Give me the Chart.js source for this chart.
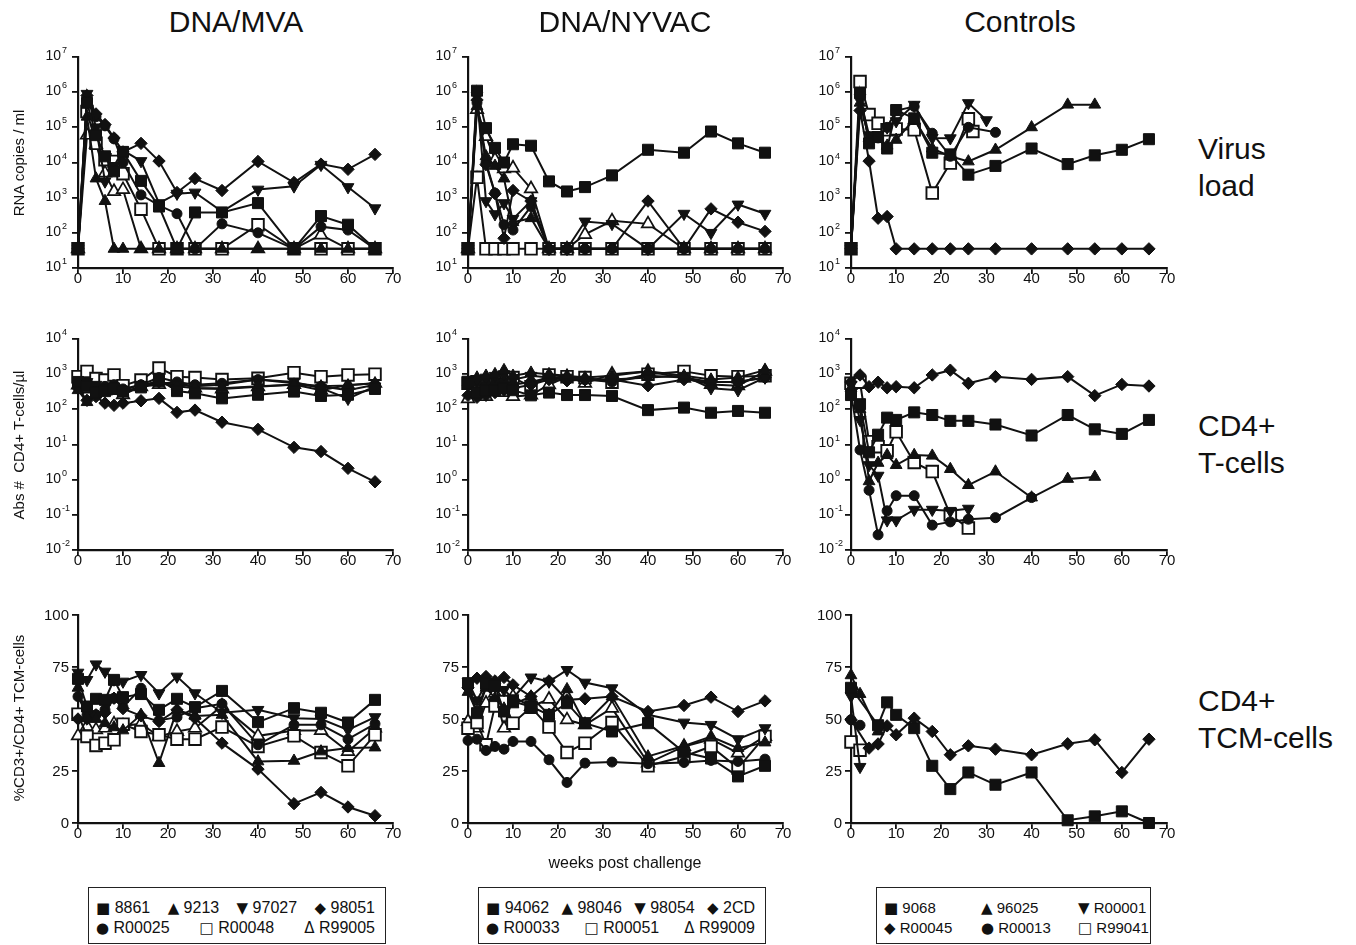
<!DOCTYPE html>
<html><head><meta charset="utf-8">
<script src="https://cdn.jsdelivr.net/npm/chart.js@4/dist/chart.umd.min.js"></script>
<style>
body{margin:0;background:#fff;width:1356px;height:945px;position:relative;overflow:hidden;font-family:"Liberation Sans",Arial,Helvetica,sans-serif;color:#111}
canvas{position:absolute}
.t{position:absolute;white-space:nowrap}
.title{font-size:30px;line-height:30px;top:7px;transform:translateX(-50%)}
.rowlab{font-size:30px;line-height:37px;left:1198px}
.ytitle{font-size:15px;line-height:15px;transform:translate(-50%,-50%) rotate(-90deg)}
.xtitle{font-size:16px;line-height:16px;transform:translateX(-50%)}
.legbox{position:absolute;border:1.3px solid #222;box-sizing:border-box;font-size:16px;line-height:20px}
.legrow{position:absolute;left:7px;white-space:nowrap;display:flex;justify-content:space-between}
.sym{font-family:"DejaVu Sans",sans-serif;font-size:15px}
</style>
</head><body>
<script>
// ---------------- DATA ----------------
const weeksVac = [0,2,4,6,8,10,14,18,22,26,32,40,48,54,60,66];
const weeksCtl = [0,2,4,6,8,10,14,18,22,26,27,30,32,40,48,54,60,66];
const xTickValues = [0,10,20,30,40,50,60,70];
const vlExponents = [1,2,3,4,5,6,7];
const cd4Exponents = [-2,-1,0,1,2,3,4];
const tcmTicks = [0,25,50,75,100];

const groupTitles = ['DNA/MVA','DNA/NYVAC','Controls'];
const namesMVA = ['8861','9213','97027','98051','R00025','R00048','R99005'];
const namesNYVAC = ['94062','98046','98054','2CD','R00033','R00051','R99009'];
const namesCtl = ['9068','96025','R00001','R00045','R00013','R99041'];

// DNA/MVA – virus load (RNA copies/ml)
const vlMVA_8861   = [35,5e5,6e4,1.5e4,5.6e3,2e4,3e3,560,35,380,380,700,35,300,170,35];
const vlMVA_9213   = [35,2e5,3.5e3,800,35,35,35,35,35,35,35,35,35,35,35,35];
const vlMVA_97027  = [35,9e5,1e5,2.9e3,8e3,2.2e4,1.1e4,700,1.3e3,1.4e3,400,1.7e3,2.1e3,8.6e3,2e3,500];
const vlMVA_98051  = [35,8e5,2.4e5,1.2e5,5e4,2e4,3.5e4,1.1e4,1.4e3,3.5e3,1.6e3,1.07e4,2.7e3,9e3,6.4e3,1.7e4];
const vlMVA_R00025 = [35,6e5,2e5,1.1e5,4.7e4,1e4,1.2e3,600,350,35,180,100,35,150,120,35];
const vlMVA_R00048 = [35,2.8e5,3.5e4,1.2e4,1.07e4,4.8e3,470,35,35,35,35,170,35,35,35,35];
const vlMVA_R99005 = [35,6e4,3.3e4,5e3,1.5e3,1.7e3,35,35,35,35,35,35,35,87,35,35];

// DNA/NYVAC – virus load
const vlNYV_94062  = [35,1.1e6,9.5e4,2.6e4,1e4,3.3e4,3e4,2.9e3,1.5e3,2e3,4.3e3,2.3e4,1.9e4,7.6e4,3.5e4,1.9e4];
const vlNYV_98046  = [35,4e5,1.5e4,8e3,3.5e3,200,260,35,35,35,35,35,35,35,35,35];
const vlNYV_98054  = [35,8e5,800,340,700,250,800,35,35,210,180,35,350,100,640,350];
const vlNYV_2CD    = [35,6e5,8.7e3,1.3e3,70,1.6e3,800,35,35,35,35,800,35,480,200,110];
const vlNYV_R00033 = [35,5e5,1e4,1.35e3,170,120,560,35,35,35,35,35,35,35,35,35];
const vlNYV_R00051 = [35,3.8e3,35,35,35,35,35,35,35,35,35,35,35,35,35,35];
const vlNYV_R99009 = [35,3.2e5,5.5e4,1.2e4,6.6e3,7e3,1.8e3,35,35,90,220,180,35,35,35,35];

// Controls – virus load
const vlCtl_9068   = [35,9.4e5,3.5e4,5.3e4,2.5e4,3.1e5,1.8e5,1.9e4,1.7e4,4.5e3,null,null,8e3,2.5e4,9e3,1.6e4,2.3e4,4.6e4];
const vlCtl_96025  = [35,5e5,5e4,5e4,3e4,4.4e4,1.7e5,2.5e4,1.5e4,1.07e4,null,null,2.3e4,1e5,4.4e5,4.4e5,null,null];
const vlCtl_R00001 = [35,7e5,6e4,6e4,1e5,1.5e5,4.4e5,5e4,4.9e4,4.9e5,null,1.6e5,null,null,null,null,null,null];
const vlCtl_R00045 = [35,3e5,1.1e4,260,290,35,35,35,35,35,null,null,35,35,35,35,35,35];
const vlCtl_R00013 = [35,7e5,4e4,5e4,1e5,3e5,3.9e5,6.8e4,1.5e4,1e5,null,null,7.2e4,null,null,null,null,null];
const vlCtl_R99041 = [35,2e6,2.3e5,1.3e5,8.5e4,9e4,8.5e4,1.35e3,9.6e3,1.75e5,7.6e4,null,null,null,null,null,null,null];

// DNA/MVA – CD4+ T-cells/µl
const cdMVA_8861   = [600,450,300,330,380,320,420,700,330,285,205,260,320,240,260,380];
const cdMVA_9213   = [350,160,290,330,350,300,450,550,450,400,400,450,500,450,480,550];
const cdMVA_97027  = [450,600,500,400,450,350,500,600,500,450,500,700,600,400,200,450];
const cdMVA_98051  = [400,180,230,150,130,150,175,205,82,95,43,27,8.3,6.3,2.1,0.87];
const cdMVA_R00025 = [500,550,400,450,500,380,500,800,600,500,550,700,550,450,350,500];
const cdMVA_R00048 = [850,1200,750,680,950,470,680,1500,850,800,700,760,1100,850,950,1000];
const cdMVA_R99005 = [490,380,630,330,350,260,440,510,630,400,380,440,510,350,490,550];

// DNA/NYVAC – CD4+ T-cells/µl
const cdNYV_94062  = [550,300,350,350,400,350,250,300,255,255,240,95,112,80,90,80];
const cdNYV_98046  = [600,800,900,1000,1300,900,1100,1000,900,800,900,1200,900,700,800,1300];
const cdNYV_98054  = [700,700,800,900,1000,700,900,800,800,700,700,800,900,400,350,800];
const cdNYV_2CD    = [250,220,250,300,350,400,500,700,650,700,700,470,700,600,600,800];
const cdNYV_R00033 = [500,600,500,600,600,500,600,800,700,700,600,900,800,600,600,800];
const cdNYV_R00051 = [550,610,500,600,500,800,440,950,850,800,590,1000,1200,900,850,900];
const cdNYV_R99009 = [200,400,230,320,300,230,255,500,850,550,1000,1200,760,510,470,1200];

// Controls – CD4+ T-cells/µl
const cdCtl_9068   = [255,140,6,19,58,50,82,69,47,47,null,null,37,18,69,27,20,50];
const cdCtl_96025  = [400,100,0.9,3,5,2.6,5,4.8,2,0.7,null,null,1.7,0.31,1.05,1.2,null,null];
const cdCtl_R00001 = [500,50,2.6,1.3,0.07,0.07,0.14,0.14,0.13,0.15,null,null,null,null,null,null,null,null];
const cdCtl_R00045 = [600,950,440,590,410,440,410,950,1300,550,null,null,850,710,850,245,510,460];
const cdCtl_R00013 = [300,7,0.5,0.027,0.13,0.35,0.35,0.051,0.063,0.075,null,null,0.083,0.31,null,null,null,null];
const cdCtl_R99041 = [550,590,12,8.7,6.6,23,3.1,1.7,0.1,0.042,null,null,null,null,null,null,null,null];

// DNA/MVA – %CD3+/CD4+ TCM-cells
const tcMVA_8861   = [69.3,56,59.7,59.2,68.8,60.5,62,54.4,59.7,55.7,63.5,48.5,55.2,53,48.3,59.2];
const tcMVA_9213   = [65,50.4,50,48,46,44.5,52,28.8,54.4,51.5,52,29.6,29.9,34.4,36,36.3];
const tcMVA_97027  = [72.3,68.8,76.3,72.8,69,68,71.2,62.4,70.4,62.4,53,54.4,50.4,50,44.8,50.9];
const tcMVA_98051  = [50,50,52,53,60,55,51.5,48.8,54.4,50.4,38.4,25.9,9.3,14.7,7.7,3.5];
const tcMVA_R00025 = [60.8,52,52,54.4,60,55.7,64.8,49.3,50.9,55.2,57.3,37.6,47.2,47.2,40.3,47.7];
const tcMVA_R00048 = [52.3,41.6,37.3,38.4,40,47.5,44,42.4,40.3,40.3,46.1,36.8,41.9,33.9,27.5,42.4];
const tcMVA_R99005 = [41.9,46.4,44.8,45.6,47.7,46.7,47.7,41.6,44,45.6,56.3,41.9,44.5,44.5,34.4,45.6];

// DNA/NYVAC – %CD3+/CD4+ TCM-cells
const tcNYV_94062  = [67.2,52.8,66.9,65.9,53.6,58.4,56,52,57.6,48,44,48,34,31,22.4,27.5];
const tcNYV_98046  = [63,53,65,60,55,57,60.8,52,64.3,47.7,60.8,32,37.1,41.6,36,38.7];
const tcNYV_98054  = [68,59,67,65.6,64,60,70,68,73.6,67.5,64.8,52,48.3,47.2,40.3,45.6];
const tcNYV_2CD    = [65,69.6,70.4,68.3,70,66.4,60.8,68.3,59.2,59.7,60.8,53.6,56.5,60.5,53.6,58.7];
const tcNYV_R00033 = [39.7,40.3,34.9,36.8,35.5,39.2,39.2,30.4,19.5,28.8,29.3,28.5,29.1,30.1,29.6,30.7];
const tcNYV_R00051 = [45.6,48.3,37.6,56.3,58.4,48,55.7,46.1,33.9,38.4,48.3,27.5,32,36.8,26.4,41.6];
const tcNYV_R99009 = [48.8,45.6,57.6,62.4,45.6,60.8,56,59.5,49.6,47.2,55.2,28.8,36.8,40.3,33.6,41.6];

// Controls – %CD3+/CD4+ TCM-cells
const tcCtl_9068   = [65,null,null,47,58,52,45.6,27.5,16.3,24.3,null,null,18.4,24.3,1.3,3.2,5.6,0];
const tcCtl_96025  = [71,62,null,44,null,null,null,null,null,null,null,null,null,null,null,null,null,null];
const tcCtl_R00001 = [61,27,null,null,null,null,null,null,null,null,null,null,null,null,null,null,null,null];
const tcCtl_R00045 = [49.6,null,36,38,46.7,42.4,50.4,44,32.8,37.1,null,null,35.5,32.8,38.1,40,24.3,40.3];
const tcCtl_R00013 = [49.6,47,null,null,null,null,null,null,null,null,null,null,null,null,null,null,null,null];
const tcCtl_R99041 = [39,35,null,null,null,null,null,null,null,null,null,null,null,null,null,null,null,null];

// ---------------- LAYOUT / STYLE ----------------
const cols = [{l:78,r:393},{l:468,r:783},{l:851,r:1167}];
const rows = [{t:57,b:268},{t:339,b:550},{t:615,b:823}];
const markers = [
  {style:'rect', r:7.8, fill:'#111', rot:0, bw:1},
  {style:'triangle', r:6.8, fill:'#111', rot:0, bw:1},
  {style:'triangle', r:6.8, fill:'#111', rot:180, bw:1},
  {style:'rectRot', r:6.2, fill:'#111', rot:0, bw:1},
  {style:'circle', r:5, fill:'#111', rot:0, bw:1},
  {style:'rect', r:8.2, fill:'#fff', rot:0, bw:1.9},
  {style:'triangle', r:7.2, fill:'#fff', rot:0, bw:1.7}
];
const legendSymbols = ['■','▲','▼','◆','●','□','Δ'];

const panels = [
  {col:0,row:0,weeks:weeksVac,names:namesMVA,series:[vlMVA_8861,vlMVA_9213,vlMVA_97027,vlMVA_98051,vlMVA_R00025,vlMVA_R00048,vlMVA_R99005]},
  {col:1,row:0,weeks:weeksVac,names:namesNYVAC,series:[vlNYV_94062,vlNYV_98046,vlNYV_98054,vlNYV_2CD,vlNYV_R00033,vlNYV_R00051,vlNYV_R99009]},
  {col:2,row:0,weeks:weeksCtl,names:namesCtl,series:[vlCtl_9068,vlCtl_96025,vlCtl_R00001,vlCtl_R00045,vlCtl_R00013,vlCtl_R99041]},
  {col:0,row:1,weeks:weeksVac,names:namesMVA,series:[cdMVA_8861,cdMVA_9213,cdMVA_97027,cdMVA_98051,cdMVA_R00025,cdMVA_R00048,cdMVA_R99005]},
  {col:1,row:1,weeks:weeksVac,names:namesNYVAC,series:[cdNYV_94062,cdNYV_98046,cdNYV_98054,cdNYV_2CD,cdNYV_R00033,cdNYV_R00051,cdNYV_R99009]},
  {col:2,row:1,weeks:weeksCtl,names:namesCtl,series:[cdCtl_9068,cdCtl_96025,cdCtl_R00001,cdCtl_R00045,cdCtl_R00013,cdCtl_R99041]},
  {col:0,row:2,weeks:weeksVac,names:namesMVA,series:[tcMVA_8861,tcMVA_9213,tcMVA_97027,tcMVA_98051,tcMVA_R00025,tcMVA_R00048,tcMVA_R99005]},
  {col:1,row:2,weeks:weeksVac,names:namesNYVAC,series:[tcNYV_94062,tcNYV_98046,tcNYV_98054,tcNYV_2CD,tcNYV_R00033,tcNYV_R00051,tcNYV_R99009]},
  {col:2,row:2,weeks:weeksCtl,names:namesCtl,series:[tcCtl_9068,tcCtl_96025,tcCtl_R00001,tcCtl_R00045,tcCtl_R00013,tcCtl_R99041]}
];

const FONT = '"Liberation Sans", Arial, Helvetica, sans-serif';
const tickLabelPlugin = {
  id: 'tickLabels',
  afterDraw(chart, args, opts) {
    const ctx = chart.ctx, a = chart.chartArea, xs = chart.scales.x, ys = chart.scales.y;
    ctx.save();
    ctx.fillStyle = '#111';
    ctx.font = '15px ' + FONT;
    ctx.textAlign = 'center'; ctx.textBaseline = 'top';
    xTickValues.forEach(v => ctx.fillText(String(v), xs.getPixelForValue(v), a.bottom + 3));
    if (opts.exps) {
      opts.exps.forEach(e => {
        const py = ys.getPixelForValue(Math.pow(10, e));
        ctx.font = '14px ' + FONT; ctx.textAlign = 'right'; ctx.textBaseline = 'middle';
        ctx.fillText('10', a.left - 17, py - 1);
        ctx.font = '9px ' + FONT; ctx.textAlign = 'left'; ctx.textBaseline = 'alphabetic';
        ctx.fillText(String(e), a.left - 16, py - 4);
      });
    } else {
      opts.vals.forEach(v => {
        const py = ys.getPixelForValue(v);
        ctx.font = '15px ' + FONT; ctx.textAlign = 'right'; ctx.textBaseline = 'middle';
        ctx.fillText(String(v), a.left - 9, py + 1);
      });
    }
    ctx.restore();
  }
};

const axisCommon = {
  ticks: {display: false},
  grid: {display: true, drawOnChartArea: false, drawTicks: true, tickLength: 6, color: '#111', lineWidth: 1.8},
  border: {display: true, color: '#111', width: 2.2}
};

panels.forEach(p => {
  const c = cols[p.col], r = rows[p.row];
  const L = c.l - 64, T = r.t - 16, W = (c.r - c.l) + 64 + 26, H = (r.b - r.t) + 16 + 28;
  const cv = document.createElement('canvas');
  cv.width = W; cv.height = H;
  Object.assign(cv.style, {left: L + 'px', top: T + 'px', width: W + 'px', height: H + 'px'});
  document.body.appendChild(cv);
  const isLog = p.row < 2;
  const yMin = p.row === 0 ? 1e1 : p.row === 1 ? 1e-2 : 0;
  const yMax = p.row === 0 ? 1e7 : p.row === 1 ? 1e4 : 100;
  const yTickVals = p.row === 0 ? vlExponents.map(e => Math.pow(10, e)) : p.row === 1 ? cd4Exponents.map(e => Math.pow(10, e)) : tcmTicks;
  const datasets = p.series.map((vals, i) => {
    const m = markers[i];
    return {
      label: p.names[i],
      data: p.weeks.map((w, k) => ({x: w, y: vals[k]})).filter(d => d.y !== null),
      borderColor: '#111', borderWidth: 2, tension: 0, spanGaps: true, clip: false,
      pointStyle: m.style, pointRadius: m.r, pointRotation: m.rot,
      pointBackgroundColor: m.fill, pointBorderColor: '#111', pointBorderWidth: m.bw,
      pointHoverRadius: m.r
    };
  });
  new Chart(cv, {
    type: 'line',
    data: {datasets},
    plugins: [tickLabelPlugin],
    options: {
      responsive: false, animation: false, events: [],
      layout: {padding: {left: c.l - L, right: L + W - c.r, top: r.t - T, bottom: T + H - r.b}},
      plugins: {
        legend: {display: false}, tooltip: {enabled: false},
        tickLabels: isLog ? {exps: p.row === 0 ? vlExponents : cd4Exponents} : {vals: tcmTicks}
      },
      scales: {
        x: Object.assign({}, axisCommon, {
          type: 'linear', min: 0, max: 70,
          afterBuildTicks: s => { s.ticks = xTickValues.map(v => ({value: v})); },
          afterFit: s => { s.height = 0; }
        }),
        y: Object.assign({}, axisCommon, {
          type: isLog ? 'logarithmic' : 'linear', min: yMin, max: yMax,
          afterBuildTicks: s => { s.ticks = yTickVals.map(v => ({value: v})); },
          afterFit: s => { s.width = 0; }
        })
      }
    }
  });
});

// ---------------- TEXT ----------------
function addText(cls, txt, left, top) {
  const d = document.createElement('div');
  d.className = 't ' + cls; d.innerHTML = txt;
  d.style.left = left + 'px'; d.style.top = top + 'px';
  document.body.appendChild(d);
  return d;
}
addText('title', groupTitles[0], 236, 7);
addText('title', groupTitles[1], 625, 7);
addText('title', groupTitles[2], 1020, 7);
addText('rowlab', 'Virus<br>load', 1198, 130);
addText('rowlab', 'CD4+<br>T-cells', 1198, 407);
addText('rowlab', 'CD4+<br>TCM-cells', 1198, 682);
addText('ytitle', 'RNA copies / ml', 18, 163);
addText('ytitle', 'Abs #&nbsp; CD4+ T-cells/µl', 18, 445);
addText('ytitle', '%CD3+/CD4+ TCM-cells', 18, 718);
addText('xtitle', 'weeks post challenge', 625, 855);

function legendBox(left, width, names, rowsIdx, rowWidth, colWidth, fontSize) {
  const box = document.createElement('div');
  box.className = 'legbox';
  Object.assign(box.style, {left: left + 'px', top: '887px', width: width + 'px', height: '57px', fontSize: fontSize + 'px'});
  rowsIdx.forEach((idxs, ri) => {
    const row = document.createElement('div');
    row.className = 'legrow';
    row.style.top = (ri === 0 ? 10 : 30) + 'px';
    if (rowWidth) row.style.width = rowWidth + 'px';
    else row.style.justifyContent = 'flex-start';
    idxs.forEach(i => {
      const it = document.createElement('span');
      if (colWidth) it.style.width = colWidth + 'px';
      it.innerHTML = '<span class="sym">' + legendSymbols[i] + '</span> ' + names[i];
      row.appendChild(it);
    });
    box.appendChild(row);
  });
  document.body.appendChild(box);
}
legendBox(88, 298, namesMVA, [[0,1,2,3],[4,5,6]], 279, 0, 16);
legendBox(478, 288, namesNYVAC, [[0,1,2,3],[4,5,6]], 269, 0, 16);
legendBox(876, 275, namesCtl, [[0,1,2],[3,4,5]], 0, 97, 15);
</script>
</body></html>
